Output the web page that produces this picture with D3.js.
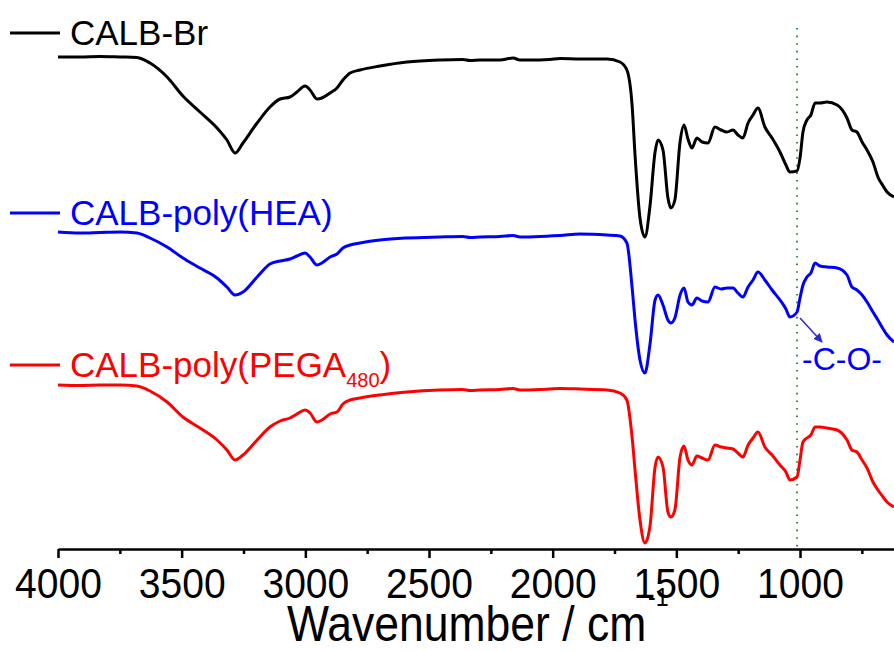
<!DOCTYPE html>
<html>
<head>
<meta charset="utf-8">
<script src="https://cdn.jsdelivr.net/npm/d3@7"></script>
<style>
  html, body { margin: 0; padding: 0; background: #fff; }
  svg { display: block; font-family: "Liberation Sans", Arial, sans-serif; }
</style>
</head>
<body>
<svg id="chart" width="894" height="651"></svg>
<script>
// FTIR spectra of the three CALB samples (stacked, arbitrary transmittance units)
const wavenumbers = [
  4000, 3911, 3830, 3749, 3681, 3628, 3559, 3495, 3426, 3357,
  3317, 3284, 3252, 3195, 3143, 3102, 3062, 3034, 3001, 2981,
  2953, 2933, 2900, 2872, 2848, 2819, 2779, 2698, 2589, 2456,
  2363, 2334, 2294, 2213, 2160, 2132, 2051, 2011, 1970, 1890,
  1780, 1728, 1700, 1679, 1667, 1647, 1627, 1607, 1586, 1574,
  1554, 1534, 1522, 1506, 1485, 1469, 1453, 1437, 1417, 1396,
  1372, 1344, 1319, 1295, 1271, 1251, 1231, 1210, 1190, 1170,
  1142, 1113, 1081, 1057, 1041, 1012, 1000, 988, 972, 956,
  939, 919, 891, 850, 810, 790, 770, 749, 729, 705,
  685, 664, 648, 620
];

const calbBr = [
  49.2, 49.2, 49.25, 49.2, 49.15, 48.6, 47.2, 45.3, 43.7, 42.1,
  40.9, 39.6, 40.6, 42.6, 44.2, 45.0, 45.2, 45.7, 46.3, 45.9,
  45.0, 45.1, 45.6, 46.1, 46.9, 47.6, 47.9, 48.3, 48.7, 48.9,
  48.95, 48.85, 48.9, 48.9, 49.1, 48.9, 48.9, 48.95, 49.05, 49.0,
  49.0, 48.7, 47.9, 44.4, 39.4, 33.1, 31.2, 34.2, 39.7, 40.9,
  39.9, 35.1, 34.1, 34.9, 40.7, 42.4, 41.0, 40.1, 41.1, 40.7,
  40.6, 42.2, 41.9, 41.7, 41.9, 41.4, 41.1, 42.6, 43.4, 44.1,
  42.2, 41.1, 39.7, 38.4, 37.7, 37.8, 39.1, 41.7, 42.9, 43.4,
  44.6, 44.6, 44.7, 44.4, 43.1, 41.9, 41.7, 40.7, 39.9, 38.7,
  37.2, 36.3, 35.7, 35.2
];

const calbPolyHEA = [
  31.7, 31.6, 31.65, 31.7, 31.6, 31.1, 30.2, 29.1, 28.1, 27.1,
  26.2, 25.4, 25.7, 27.2, 28.5, 28.8, 29.0, 29.3, 29.6, 29.2,
  28.4, 28.6, 29.2, 29.5, 30.1, 30.4, 30.6, 30.9, 31.1, 31.2,
  31.25, 31.15, 31.2, 31.25, 31.35, 31.2, 31.25, 31.3, 31.35, 31.5,
  31.4, 31.3, 30.6, 26.2, 22.9, 18.9, 17.6, 20.4, 24.9, 25.4,
  24.4, 22.9, 22.6, 23.1, 25.4, 26.1, 24.7, 24.4, 25.1, 24.8,
  24.7, 26.2, 26.0, 26.1, 26.1, 25.6, 25.2, 26.2, 26.9, 27.7,
  26.9, 25.9, 24.9, 24.0, 23.2, 23.7, 25.1, 26.4, 27.2, 27.6,
  28.6, 28.3, 28.2, 28.1, 27.4, 26.2, 25.9, 25.4, 24.7, 23.7,
  22.9, 22.0, 21.4, 20.7
];

const calbPolyPEGA = [
  16.4, 16.35, 16.4, 16.4, 16.3, 15.8, 14.7, 13.2, 12.1, 10.9,
  9.9, 8.9, 9.4, 10.9, 12.2, 12.8, 13.1, 13.5, 13.9, 13.6,
  12.7, 12.9, 13.5, 13.7, 14.5, 14.9, 15.1, 15.4, 15.7, 15.9,
  15.95, 15.85, 15.9, 15.95, 16.05, 15.9, 15.95, 16.0, 16.05, 16.0,
  15.9, 15.6, 14.9, 11.2, 7.9, 2.9, 0.6, 2.2, 8.2, 9.2,
  8.2, 3.7, 3.2, 3.9, 9.2, 10.3, 8.9, 8.4, 9.3, 9.1,
  8.9, 10.4, 10.2, 10.1, 10.0, 9.6, 9.2, 10.4, 11.1, 11.7,
  10.2, 9.4, 8.4, 7.7, 6.9, 7.2, 8.9, 10.7, 11.1, 11.4,
  12.2, 12.2, 12.1, 11.9, 10.9, 9.9, 9.7, 8.9, 8.1, 6.7,
  5.9, 5.2, 4.7, 4.2
];

const majorTicks = [4000, 3500, 3000, 2500, 2000, 1500, 1000];
const minorTicks = [3750, 3250, 2750, 2250, 1750, 1250, 750];

// C–O band marker and its annotation
const coBand = 1012;
const coArrow = { from: [1000, 23.1], to: [911, 20.7] };
const coLabel = { at: [992, 17.9], text: "-C-O-" };

const series = [
  { name: "CALB-Br", sub: null, values: calbBr, color: "#000000" },
  { name: "CALB-poly(HEA)", sub: null, values: calbPolyHEA, color: "#0000ff" },
  { name: "CALB-poly(PEGA", sub: "480", values: calbPolyPEGA, color: "#ff0000" }
];

const svg = d3.select("#chart");
const x = d3.scaleLinear().domain([4000, 620]).range([58, 894]);
const y = d3.scaleLinear().domain([0, 52.1]).range([549, 28]);

svg.append("defs").append("clipPath").attr("id", "plotClip")
  .append("rect").attr("x", 58).attr("y", 0).attr("width", 836).attr("height", 549);

svg.select("defs").append("marker")
  .attr("id", "arrowHead").attr("viewBox", "0 0 10 10")
  .attr("refX", 9).attr("refY", 5)
  .attr("markerWidth", 9).attr("markerHeight", 9)
  .attr("markerUnits", "userSpaceOnUse")
  .attr("orient", "auto")
  .append("path").attr("d", "M0,0 L10,5 L0,10 Z").attr("fill", "#2a2ad0");

// dotted guide at the C–O band
svg.append("line")
  .attr("x1", x(coBand)).attr("x2", x(coBand))
  .attr("y1", y(52.1)).attr("y2", y(0))
  .attr("stroke", "#3c8c3c").attr("stroke-width", 2)
  .attr("stroke-dasharray", "1.6,6");

const line = d3.line()
  .x((d, i) => x(wavenumbers[i]))
  .y(d => y(d))
  .curve(d3.curveMonotoneX);

const plot = svg.append("g").attr("clip-path", "url(#plotClip)");
series.forEach(s => {
  plot.append("path")
    .datum(s.values)
    .attr("d", line)
    .attr("fill", "none")
    .attr("stroke", s.color)
    .attr("stroke-width", 3)
    .attr("stroke-linejoin", "round");
});

// x axis with major and minor ticks
const axisG = svg.append("g").attr("transform", "translate(0,549)");
axisG.call(d3.axisBottom(x).tickValues(majorTicks).tickSize(9).tickSizeOuter(0)
  .tickPadding(10).tickFormat(d3.format("d")));
axisG.select(".domain").attr("stroke-width", 2.5).attr("stroke", "#000");
axisG.selectAll(".tick line").attr("stroke-width", 2.5).attr("stroke", "#000");
axisG.selectAll(".tick text")
  .attr("font-size", 42).attr("font-family", "Liberation Sans, Arial, sans-serif")
  .attr("fill", "#000")
  .attr("transform", "scale(0.93,1)");

const minorG = svg.append("g").attr("transform", "translate(0,549)");
minorG.call(d3.axisBottom(x).tickValues(minorTicks).tickSize(5).tickFormat(""));
minorG.select(".domain").remove();
minorG.selectAll(".tick line").attr("stroke-width", 2.5).attr("stroke", "#000");

// axis title, horizontally condensed
const title = svg.append("text")
  .attr("transform", "translate(287,641) scale(0.89,1)")
  .attr("font-size", 50).attr("fill", "#000");
title.append("tspan").text("Wavenumber / cm");
title.append("tspan").attr("font-size", 26).attr("dx", 2).attr("dy", -35).text("-1");

// legend entries placed above each trace
const legendRows = [45, 225, 377];
series.forEach((s, i) => {
  const base = legendRows[i];
  svg.append("line")
    .attr("x1", 10).attr("x2", 60)
    .attr("y1", base - 12).attr("y2", base - 12)
    .attr("stroke", s.color).attr("stroke-width", 3);
  const t = svg.append("text")
    .attr("x", 70).attr("y", base)
    .attr("font-size", 35).attr("fill", s.color);
  t.append("tspan").text(s.name);
  if (s.sub) {
    t.append("tspan").attr("font-size", 20).attr("dy", 10).text(s.sub);
    t.append("tspan").attr("dy", -10).text(")");
  }
});

// C–O annotation
svg.append("line")
  .attr("x1", x(coArrow.from[0])).attr("y1", y(coArrow.from[1]))
  .attr("x2", x(coArrow.to[0])).attr("y2", y(coArrow.to[1]))
  .attr("stroke", "#2a2ad0").attr("stroke-width", 1.5)
  .attr("marker-end", "url(#arrowHead)");
svg.append("text")
  .attr("x", x(coLabel.at[0])).attr("y", y(coLabel.at[1]))
  .attr("font-size", 32).attr("fill", "#0000ff")
  .text(coLabel.text);
</script>
</body>
</html>
